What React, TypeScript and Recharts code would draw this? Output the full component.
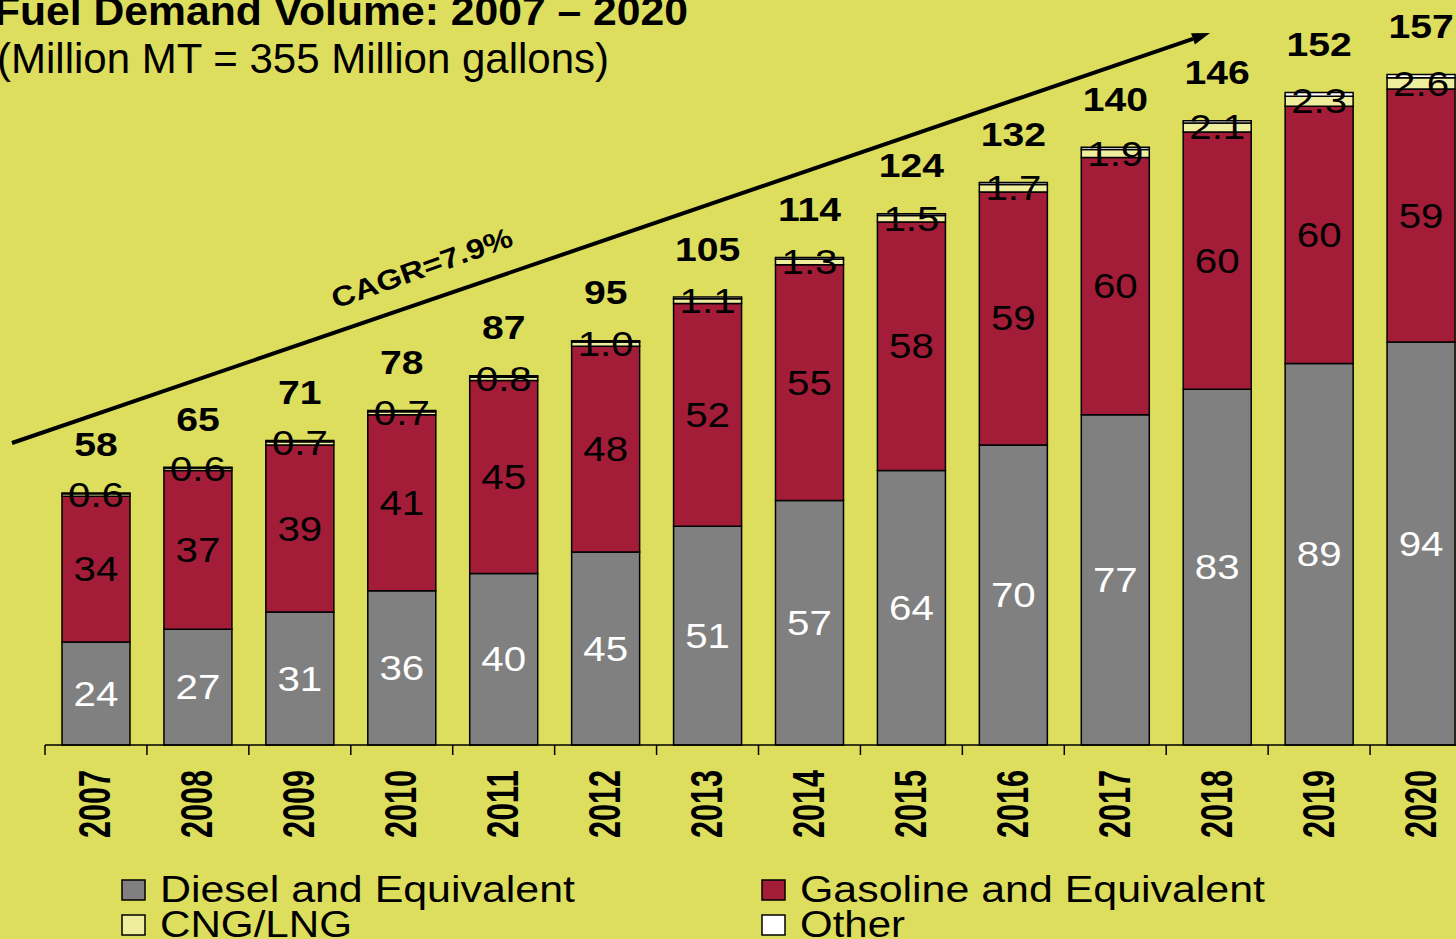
import { BarChart, Bar, XAxis, YAxis, LabelList } from 'recharts';

const years = ['2007', '2008', '2009', '2010', '2011', '2012', '2013', '2014', '2015', '2016', '2017', '2018', '2019', '2020'];
const diesel = [24, 27, 31, 36, 40, 45, 51, 57, 64, 70, 77, 83, 89, 94];
const gasoline = [34, 37, 39, 41, 45, 48, 52, 55, 58, 59, 60, 60, 60, 59];
const cng = [0.6, 0.6, 0.7, 0.7, 0.8, 1.0, 1.1, 1.3, 1.5, 1.7, 1.9, 2.1, 2.3, 2.6];
const other = [0.2, 0.2, 0.3, 0.3, 0.3, 0.3, 0.4, 0.4, 0.4, 0.5, 0.5, 0.5, 0.9, 0.8];
const totals = [58, 65, 71, 78, 87, 95, 105, 114, 124, 132, 140, 146, 152, 157];

const BG = '#DDDD5E';
const GRAY = '#808080';
const RED = '#A31D38';
const PALE = '#EFEE9F';

const data = years.map((year, i) => ({
  year,
  diesel: diesel[i],
  gasoline: gasoline[i],
  cng: cng[i],
  other: other[i],
}));

const legendItems = [
  { name: 'Diesel and Equivalent', color: GRAY, x: 122, y: 880, len: 415 },
  { name: 'Gasoline and Equivalent', color: RED, x: 762, y: 880, len: 465 },
  { name: 'CNG/LNG', color: PALE, x: 122, y: 915, len: 192 },
  { name: 'Other', color: '#FFFFFF', x: 762, y: 915, len: 105 },
];

function YearTick({ x, y, payload }: any) {
  const half = payload?.offset || 50.95;
  return (
    <g>
      <line x1={x - half} y1={y} x2={x - half} y2={y + 10} stroke="#000" strokeWidth={1.5} />
      <text
        transform={`translate(${x - 1}, ${y + 25}) rotate(-90)`}
        textAnchor="end"
        dominantBaseline="central"
        fontFamily="Liberation Sans, Arial, sans-serif"
        fontWeight="bold"
        fontSize={44}
        textLength={68}
        lengthAdjust="spacingAndGlyphs"
        fill="#000"
      >
        {payload.value}
      </text>
    </g>
  );
}

// labels in the source are Arial stretched sideways
function segLabel(color: string, fmt: (v: number) => string) {
  return (props: any) => {
    const { x, y, width, height, value } = props;
    return (
      <text
        transform={`translate(${x + width / 2}, ${y + height / 2}) scale(1.15, 1)`}
        textAnchor="middle"
        dominantBaseline="central"
        fontFamily="Liberation Sans, Arial, sans-serif"
        fontSize={35}
        fill={color}
      >
        {fmt(value)}
      </text>
    );
  };
}

function TotalLabel(props: any) {
  const { x, y, width, index } = props;
  return (
    <text
      transform={`translate(${x + width / 2}, ${y - 48}) scale(1.15, 1)`}
      textAnchor="middle"
      dominantBaseline="central"
      fontFamily="Liberation Sans, Arial, sans-serif"
      fontWeight="bold"
      fontSize={34}
      fill="#000"
    >
      {totals[index]}
    </text>
  );
}

function Arrow() {
  const x1 = 12, y1 = 443, x2 = 1210, y2 = 33;
  const len = Math.hypot(x2 - x1, y2 - y1);
  const ux = (x2 - x1) / len, uy = (y2 - y1) / len;
  const head = 18, w = 6;
  const bx = x2 - ux * head, by = y2 - uy * head;
  const pts = `${x2},${y2} ${bx - uy * w},${by + ux * w} ${bx + uy * w},${by - ux * w}`;
  return (
    <g>
      <line x1={x1} y1={y1} x2={bx} y2={by} stroke="#000" strokeWidth={4} />
      <polygon points={pts} fill="#000" />
    </g>
  );
}

export default function App() {
  return (
    <div style={{ position: 'fixed', left: 0, top: 0, width: 1456, height: 939, overflow: 'hidden', background: BG }}>
      <BarChart
        width={1472}
        height={860}
        data={data}
        margin={{ top: 59, right: 0, left: 45, bottom: 0 }}
        barCategoryGap={17}
      >
        <XAxis
          dataKey="year"
          height={115}
          interval={0}
          tickSize={0}
          tickMargin={0}
          tickLine={false}
          axisLine={{ stroke: '#000', strokeWidth: 1.5 }}
          tick={<YearTick />}
        />
        <YAxis hide domain={[0, 160]} />
        <Bar dataKey="diesel" stackId="a" fill={GRAY} stroke="#000" strokeWidth={1.5} isAnimationActive={false}>
          <LabelList dataKey="diesel" content={segLabel('#FFFFFF', (v) => String(v))} />
        </Bar>
        <Bar dataKey="gasoline" stackId="a" fill={RED} stroke="#000" strokeWidth={1.5} isAnimationActive={false}>
          <LabelList dataKey="gasoline" content={segLabel('#000', (v) => String(v))} />
        </Bar>
        <Bar dataKey="cng" stackId="a" fill={PALE} stroke="#000" strokeWidth={1.5} isAnimationActive={false}>
          <LabelList dataKey="cng" content={segLabel('#000', (v) => Number(v).toFixed(1))} />
        </Bar>
        <Bar dataKey="other" stackId="a" fill="#FFFFFF" stroke="#000" strokeWidth={1.5} isAnimationActive={false}>
          <LabelList dataKey="other" content={<TotalLabel />} />
        </Bar>
      </BarChart>

      <svg
        width={1456}
        height={939}
        style={{ position: 'absolute', left: 0, top: 0, pointerEvents: 'none' }}
      >
        <text
          x={-6}
          y={25}
          fontFamily="Liberation Sans, Arial, sans-serif"
          fontWeight="bold"
          fontSize={40}
          textLength={694}
          lengthAdjust="spacingAndGlyphs"
        >
          Fuel Demand Volume: 2007 – 2020
        </text>
        <text
          x={-3}
          y={73}
          fontFamily="Liberation Sans, Arial, sans-serif"
          fontSize={42}
          textLength={612}
          lengthAdjust="spacingAndGlyphs"
        >
          (Million MT = 355 Million gallons)
        </text>

        <Arrow />
        <text
          transform="translate(422, 268) rotate(-19.5)"
          textAnchor="middle"
          dominantBaseline="central"
          fontFamily="Liberation Sans, Arial, sans-serif"
          fontWeight="bold"
          fontSize={28}
          textLength={190}
          lengthAdjust="spacingAndGlyphs"
        >
          CAGR=7.9%
        </text>

        {legendItems.map((item) => (
          <g key={item.name}>
            <rect x={item.x} y={item.y} width={23} height={20} fill={item.color} stroke="#000" strokeWidth={1.5} />
            <text
              x={item.x + 38}
              y={item.y + 22}
              fontFamily="Liberation Sans, Arial, sans-serif"
              fontSize={36}
              textLength={item.len}
              lengthAdjust="spacingAndGlyphs"
            >
              {item.name}
            </text>
          </g>
        ))}
      </svg>
    </div>
  );
}
